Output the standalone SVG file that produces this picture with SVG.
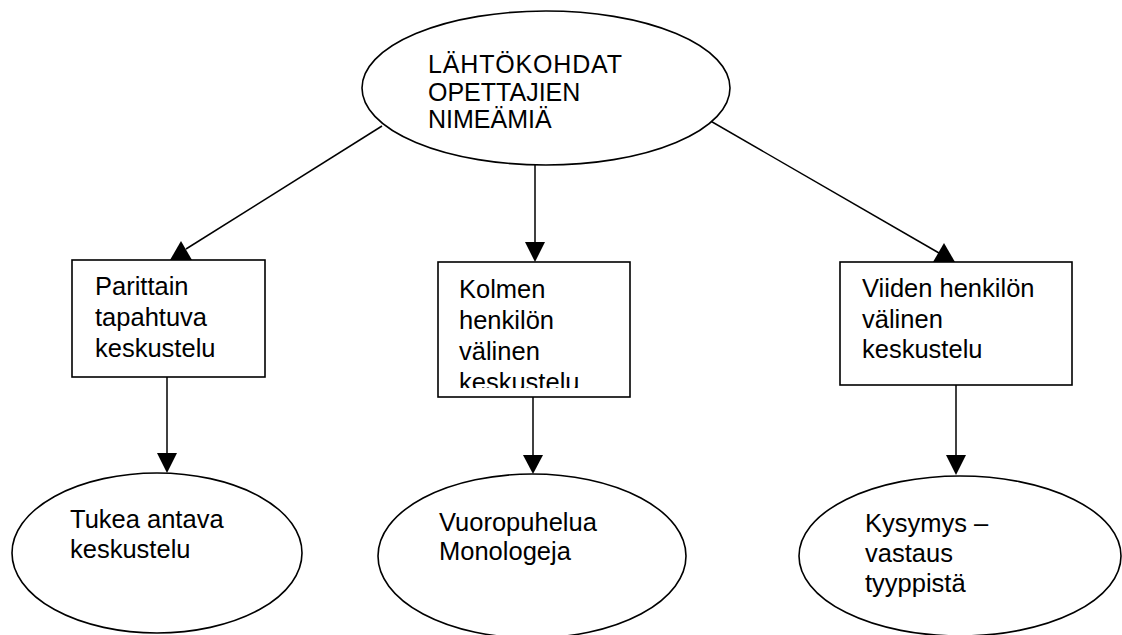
<svg xmlns="http://www.w3.org/2000/svg" width="1122" height="635" viewBox="0 0 1122 635">
<style>
.shape{fill:#fff;stroke:#000;stroke-width:1.6}
.ln{stroke:#000;stroke-width:1.5;fill:none}
.ah{fill:#000;stroke:none}
text{font-family:"Liberation Sans",Arial,sans-serif;font-size:25.5px;fill:#000}
.big{font-size:25px}
</style>
<defs>
<clipPath id="clipMid"><rect x="438" y="262" width="192" height="126"/></clipPath>
</defs>
<rect width="1122" height="635" fill="#fff"/>
<g id="connectors">
<line class="ln" x1="382" y1="126" x2="186" y2="249"/>
<polygon class="ah" points="181,241 170,260 192,260"/>
<line class="ln" x1="535" y1="165" x2="535" y2="243"/>
<polygon class="ah" points="525,242 545,242 535,262"/>
<line class="ln" x1="688" y1="108" x2="939" y2="253"/>
<polygon class="ah" points="944,243 933,262 955,262"/>
<line class="ln" x1="167" y1="377" x2="167" y2="454"/>
<polygon class="ah" points="157,453 177,453 167,473"/>
<line class="ln" x1="533" y1="397" x2="533" y2="456"/>
<polygon class="ah" points="523,455 543,455 533,474"/>
<line class="ln" x1="956" y1="379" x2="956" y2="456"/>
<polygon class="ah" points="946,455 966,455 956,475"/>
</g>
<g id="node-top">
<ellipse class="shape" cx="546" cy="88" rx="184" ry="77"/>
<text class="big" x="428" y="73" textLength="194">LÄHTÖKOHDAT</text>
<text class="big" x="428" y="100.5">OPETTAJIEN</text>
<text class="big" x="428" y="128">NIMEÄMIÄ</text>
</g>
<g id="node-box-left">
<rect class="shape" x="72" y="260" width="193" height="117"/>
<text x="95" y="295">Parittain</text>
<text x="95" y="326">tapahtuva</text>
<text x="95" y="357">keskustelu</text>
</g>
<g id="node-box-mid">
<rect class="shape" x="438" y="262" width="192" height="135"/>
<g clip-path="url(#clipMid)">
<text x="459" y="298">Kolmen</text>
<text x="459" y="329">henkilön</text>
<text x="459" y="360">välinen</text>
<text x="459" y="391">keskustelu</text>
</g>
</g>
<g id="node-box-right">
<rect class="shape" x="840" y="262" width="232" height="123"/>
<text x="862" y="297">Viiden henkilön</text>
<text x="862" y="328">välinen</text>
<text x="862" y="358">keskustelu</text>
</g>
<g id="node-ell-left">
<ellipse class="shape" cx="157" cy="553" rx="145" ry="80"/>
<text x="70" y="528">Tukea antava</text>
<text x="70" y="558">keskustelu</text>
</g>
<g id="node-ell-mid">
<ellipse class="shape" cx="532" cy="556" rx="154" ry="82"/>
<text x="439" y="531">Vuoropuhelua</text>
<text x="439" y="560">Monologeja</text>
</g>
<g id="node-ell-right">
<ellipse class="shape" cx="960" cy="556" rx="161" ry="80"/>
<text x="865" y="532">Kysymys –</text>
<text x="865" y="562">vastaus</text>
<text x="865" y="592">tyyppistä</text>
</g>
</svg>
